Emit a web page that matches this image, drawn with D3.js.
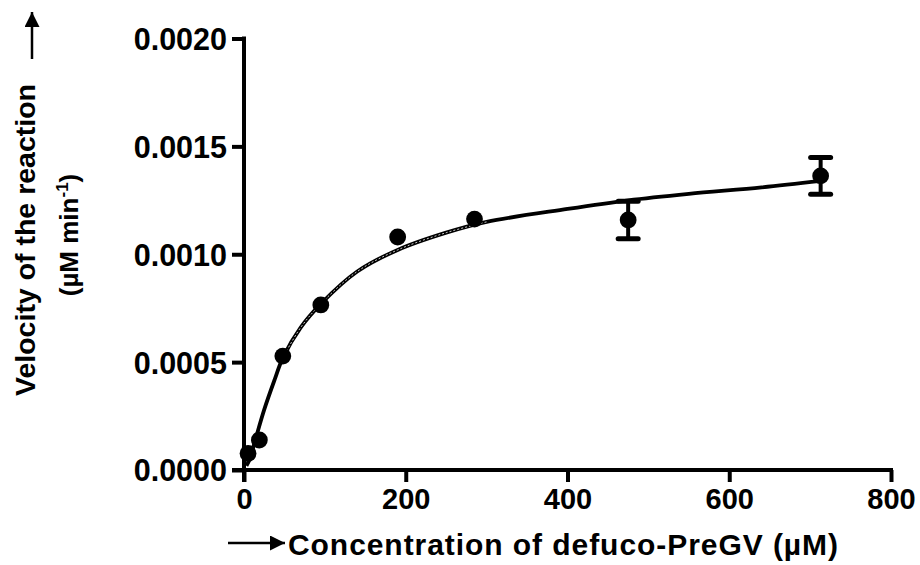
<!DOCTYPE html>
<html><head><meta charset="utf-8">
<script src="https://cdn.jsdelivr.net/npm/d3@7"></script>
<style>html,body{margin:0;padding:0;background:#fff}svg{display:block}</style>
</head><body>
<svg id="chart" width="920" height="565"></svg>
<script>
// Measured data
const concentration = [5, 19, 48, 95, 190, 285, 475, 713];
const velocity = [0.0000765, 0.000139, 0.000528, 0.000765, 0.00108, 0.001163, 0.001159, 0.001363];
const velocityErr = [0, 0, 0, 0, 0, 0, 0.000087, 0.000085];
// Fitted curve
const fitX = [3, 7, 14, 25, 38, 48, 70, 95, 140, 190, 250, 300, 400, 475, 550, 640, 713];
const fitY = [0.00002, 0.00005, 0.00014, 0.00028, 0.00042, 0.00052, 0.00066, 0.00077, 0.00092, 0.00102, 0.00110, 0.00115, 0.00121, 0.00125, 0.00128, 0.00131, 0.00134];
const xTicks = [0, 200, 400, 600, 800];
const yTicks = [0, 0.0005, 0.0010, 0.0015, 0.0020];
const xTitle = "Concentration of defuco-PreGV (\u00B5M)";
const yTitle1 = "Velocity of the reaction";
const yTitle2 = "(\u00B5M min";

const svg = d3.select("#chart");
const font = "'Liberation Sans', Arial, sans-serif";
const x = d3.scaleLinear().domain([0, 800]).range([244, 891]);
const y = d3.scaleLinear().domain([0, 0.0020]).range([470, 38.5]);
const AW = 4;

// axes
const xAxis = svg.append("g").attr("transform", "translate(0,470)")
  .call(d3.axisBottom(x).tickValues(xTicks).tickSize(12).tickPadding(6).tickFormat(d3.format("d")));
const yAxis = svg.append("g").attr("transform", "translate(244,0)")
  .call(d3.axisLeft(y).tickValues(yTicks).tickSize(12).tickPadding(5).tickFormat(d3.format(".4f")));
[xAxis, yAxis].forEach(g => {
  g.select(".domain").remove();
  g.selectAll(".tick line").attr("stroke", "#000").attr("stroke-width", AW);
  g.selectAll("text").attr("fill", "#000").attr("font-family", font).attr("font-weight", "bold");
});
xAxis.selectAll("text").attr("font-size", 29).attr("dy", "0.74em");
yAxis.selectAll("text").attr("font-size", 30.5).attr("dy", "0.36em");
// axis lines
svg.append("line").attr("x1", x(0)).attr("x2", x(0)).attr("y1", y(0.0020) - AW / 2).attr("y2", 482)
  .attr("stroke", "#000").attr("stroke-width", AW);
svg.append("line").attr("x1", 232).attr("x2", x(800) + AW / 2).attr("y1", y(0)).attr("y2", y(0))
  .attr("stroke", "#000").attr("stroke-width", AW);

// fit curve
const fit = fitX.map((d, i) => [d, fitY[i]]);
const line = d3.line().x(d => x(d[0])).y(d => y(d[1])).curve(d3.curveCatmullRom);
svg.append("path").datum(fit).attr("d", line).attr("fill", "none")
  .attr("stroke", "#000").attr("stroke-width", 3.8);
svg.append("path").datum(fit.filter(d => d[0] >= 45 && d[0] <= 320)).attr("d", line).attr("fill", "none")
  .attr("stroke", "#fff").attr("stroke-width", 1).attr("stroke-dasharray", "2,2").attr("opacity", 0.8);

// error bars
const pts = concentration.map((c, i) => ({c, v: velocity[i], e: velocityErr[i]}));
const eb = svg.append("g").selectAll("g").data(pts.filter(d => d.e > 0)).join("g");
eb.append("line").attr("x1", d => x(d.c)).attr("x2", d => x(d.c))
  .attr("y1", d => y(d.v - d.e)).attr("y2", d => y(d.v + d.e)).attr("stroke", "#000").attr("stroke-width", 4);
[-1, 1].forEach(s => {
  eb.append("line").attr("x1", d => x(d.c) - 10).attr("x2", d => x(d.c) + 10)
    .attr("y1", d => y(d.v + s * d.e)).attr("y2", d => y(d.v + s * d.e))
    .attr("stroke", "#000").attr("stroke-width", 5).attr("stroke-linecap", "round");
});
// points
svg.append("g").selectAll("circle").data(pts).join("circle")
  .attr("cx", d => x(d.c)).attr("cy", d => y(d.v)).attr("r", 8.4).attr("fill", "#000");

// arrow marker
svg.append("defs").append("marker").attr("id", "ah").attr("viewBox", "0 0 10 10")
  .attr("refX", 10).attr("refY", 5).attr("markerWidth", 6).attr("markerHeight", 6)
  .attr("markerUnits", "strokeWidth").attr("orient", "auto")
  .append("path").attr("d", "M0,0L10,5L0,10Z").attr("fill", "#000");

// x title
svg.append("line").attr("x1", 228).attr("x2", 285).attr("y1", 543).attr("y2", 543)
  .attr("stroke", "#000").attr("stroke-width", 2.5).attr("marker-end", "url(#ah)");
svg.append("text").attr("x", 288).attr("y", 555).attr("font-family", font).attr("font-weight", "bold")
  .attr("font-size", 30).attr("textLength", 550).attr("lengthAdjust", "spacing").text(xTitle);

// y title
svg.append("text").attr("transform", "translate(35,240) rotate(-90)").attr("text-anchor", "middle")
  .attr("font-family", font).attr("font-weight", "bold").attr("font-size", 28.5).text(yTitle1);
const t2 = svg.append("text").attr("transform", "translate(78,235) rotate(-90)").attr("text-anchor", "middle")
  .attr("font-family", font).attr("font-weight", "bold").attr("font-size", 26);
t2.append("tspan").text(yTitle2);
t2.append("tspan").attr("dy", -10).attr("font-size", 17).text("-1");
t2.append("tspan").attr("dy", 10).text(")");
svg.append("line").attr("x1", 32).attr("x2", 32).attr("y1", 59).attr("y2", 12)
  .attr("stroke", "#000").attr("stroke-width", 2.5).attr("marker-end", "url(#ah)");
</script>
</body></html>
